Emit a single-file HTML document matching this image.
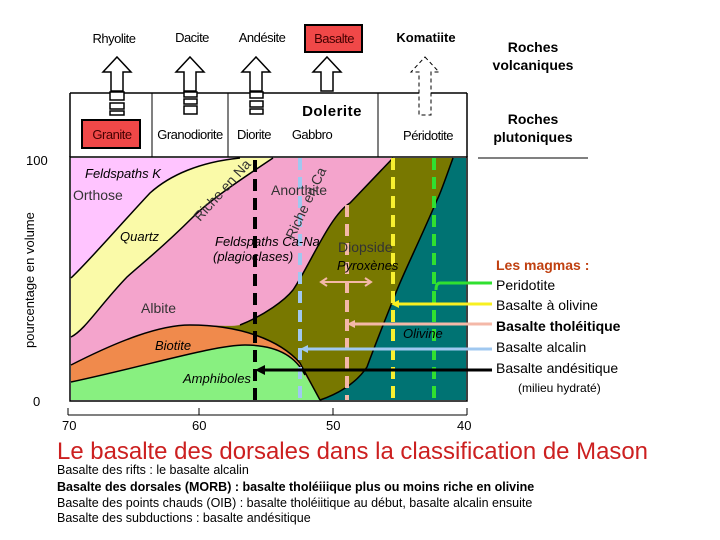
<!DOCTYPE html>
<html><head><meta charset="utf-8"><style>
body{margin:0;background:#fff;}
svg{display:block;font-family:"Liberation Sans",sans-serif;}
</style></head><body>
<svg width="720" height="540" viewBox="0 0 720 540" xmlns="http://www.w3.org/2000/svg">
<rect x="71" y="158" width="395" height="242" fill="#007373"/>
<path d="M453,158 C445,180 440,195 437,200 C420,240 405,270 397,290 C385,320 375,345 367,367 C355,385 335,395 320,400 L71,400 L71,158 Z" fill="#787800"/>
<path d="M393,158 L71,158 L71,365 C120,340 160,325 190,325 C215,325 230,327 240,325 C265,315 285,300 293,290 C310,265 330,215 350,203 Z" fill="#f4a4cc"/>
<path d="M71,365 C120,340 160,325 190,325 C240,325 280,340 300,363 L320,400 L71,400 Z" fill="#f08a4c"/>
<path d="M71,382 C150,365 215,345 245,345 C275,345 295,355 305,375 L320,400 L71,400 Z" fill="#88f080"/>
<path d="M71,158 L273,158 C240,180 210,200 193,217 C160,250 140,265 127,277 C100,305 85,330 71,337 Z" fill="#fafaa8"/>
<path d="M71,158 L240,158 C200,162 170,175 150,193 C120,225 90,260 71,278 Z" fill="#ffc4ff"/>
<g fill="none" stroke="#000" stroke-width="1.5">
<path d="M71,278 C90,260 120,225 150,193 C170,175 200,162 240,158"/>
<path d="M71,337 C85,330 100,305 127,277 C140,265 160,250 193,217 C210,200 240,180 273,158"/>
<path d="M393,158 L350,203 C330,215 310,265 293,290 C285,300 265,315 240,325"/>
<path d="M71,365 C120,340 160,325 190,325 C240,325 280,340 300,363 L320,400"/>
<path d="M71,382 C150,365 215,345 245,345 C275,345 295,355 305,375"/>
<path d="M453,158 C445,180 440,195 437,200 C420,240 405,270 397,290 C385,320 375,345 367,367 C355,385 335,395 320,400"/>
</g>
<rect x="70" y="157" width="397" height="244" fill="none" stroke="#000" stroke-width="1.5"/>
<g stroke-width="4" stroke-dasharray="12,7" fill="none">
<line x1="255" y1="160" x2="255" y2="400" stroke="#000"/>
<line x1="300" y1="158" x2="300" y2="400" stroke="#a0c8f0"/>
<line x1="347" y1="205" x2="347" y2="400" stroke="#f4b8a8"/>
<line x1="393" y1="158" x2="393" y2="400" stroke="#f8f030"/>
<line x1="434" y1="158" x2="434" y2="400" stroke="#30e030"/>
</g>
<g stroke-width="3" fill="none">
<path d="M492,283 L440,283 Q436,283 436,290" stroke="#30e030"/>
<line x1="492" y1="304" x2="398" y2="304" stroke="#f8f020"/>
<line x1="492" y1="324" x2="354" y2="324" stroke="#f4b8a8"/>
<line x1="492" y1="349" x2="305" y2="349" stroke="#a0c8f0"/>
<line x1="492" y1="370" x2="262" y2="370" stroke="#000"/>
</g>
<polygon points="255,370 265,365 265,375" fill="#000"/>
<polygon points="300,349 308,345 308,353" fill="#a0c8f0"/>
<polygon points="347,324 355,320 355,328" fill="#f4b8a8"/>
<polygon points="391,304 399,300 399,308" fill="#f8f020"/>
<g stroke="#f4b8a8" stroke-width="2" fill="none"><line x1="322" y1="282" x2="370" y2="282"/><path d="M327,278 L321,282 L327,286 M365,278 L371,282 L365,286"/></g>
<g font-size="13" font-style="italic" fill="#000">
<text x="85" y="178">Feldspaths K</text>
<text x="120" y="241">Quartz</text>
<text x="215" y="246">Feldspaths Ca-Na</text>
<text x="213" y="261">(plagioclases)</text>
<text x="337" y="270">Pyroxènes</text>
<text x="403" y="338">Olivine</text>
<text x="155" y="350">Biotite</text>
<text x="183" y="383">Amphiboles</text>
</g>
<g font-size="14" fill="#333">
<text x="73" y="200">Orthose</text>
<text x="141" y="313">Albite</text>
<text x="271" y="195">Anorthite</text>
<text x="338" y="252">Diopside</text>
<text font-size="14" transform="translate(200,222) rotate(-48)">Riche en Na</text>
<text font-size="14" transform="translate(294,240) rotate(-65)">Riche en Ca</text>
</g>
<g font-size="13" fill="#000">
<text x="26" y="165">100</text>
<text x="33" y="406">0</text>
<text transform="translate(34,348) rotate(-90)" font-size="13">pourcentage en volume</text>
<line x1="68" y1="415" x2="467" y2="415" stroke="#000"/>
<line x1="68" y1="408" x2="68" y2="415" stroke="#000"/>
<line x1="199" y1="408" x2="199" y2="415" stroke="#000"/>
<line x1="333" y1="408" x2="333" y2="415" stroke="#000"/>
<line x1="467" y1="408" x2="467" y2="415" stroke="#000"/>
<text x="62" y="430">70</text><text x="192" y="430">60</text><text x="326" y="430">50</text><text x="457" y="430">40</text>
</g>
<g fill="none" stroke="#000" stroke-width="1.5">
<line x1="70" y1="93" x2="467" y2="93"/>
<line x1="70" y1="93" x2="70" y2="157"/>
<line x1="467" y1="93" x2="467" y2="157"/>
<line x1="152" y1="93" x2="152" y2="157" stroke-width="1"/>
<line x1="228" y1="93" x2="228" y2="157" stroke-width="1"/>
<line x1="378" y1="93" x2="378" y2="157" stroke-width="1"/>
</g>
<rect x="82" y="120" width="58" height="28" fill="#f04848" stroke="#000" stroke-width="2"/>
<rect x="305" y="25" width="57" height="27" fill="#f04848" stroke="#000" stroke-width="2"/>
<g fill="#fff" stroke="#000" stroke-width="1.5">
<path d="M117,57 L131,72 L123,72 L123,91 L111,91 L111,72 L103,72 Z"/>
<path d="M190,57 L204,72 L196,72 L196,91 L184,91 L184,72 L176,72 Z"/>
<path d="M256,57 L270,72 L262,72 L262,91 L250,91 L250,72 L242,72 Z"/>
<path d="M327,57 L341,72 L333,72 L333,91 L321,91 L321,72 L313,72 Z"/>
<path d="M425,57 L439,72 L431,72 L431,115 L419,115 L419,72 L411,72 Z" stroke-dasharray="4,3" stroke-width="1"/>
<rect x="110" y="92" width="14" height="8"/><rect x="110" y="103" width="14" height="6"/><rect x="110" y="111" width="14" height="4"/>
<rect x="184" y="92" width="13" height="5"/><rect x="184" y="99" width="13" height="5"/><rect x="184" y="106" width="13" height="8"/>
<rect x="250" y="92" width="13" height="6"/><rect x="250" y="101" width="13" height="6"/><rect x="250" y="109" width="13" height="5"/>
</g>
<g font-size="13" fill="#000" text-anchor="middle" letter-spacing="-0.5">
<text x="114" y="43">Rhyolite</text>
<text x="192" y="42">Dacite</text>
<text x="262" y="42">Andésite</text>
<text x="334" y="43" fill="#400">Basalte</text>
<text x="426" y="42" font-weight="bold" letter-spacing="0">Komatiite</text>
<text x="112" y="139" fill="#400">Granite</text>
<text x="190" y="139">Granodiorite</text>
<text x="254" y="139">Diorite</text>
<text x="312" y="139">Gabbro</text>
<text x="428" y="140">Péridotite</text>
<text x="332" y="116" font-size="15" font-weight="bold" letter-spacing="0.5">Dolerite</text>
</g>
<g font-size="14" font-weight="bold" text-anchor="middle" fill="#000">
<text x="533" y="52">Roches</text><text x="533" y="70">volcaniques</text>
<text x="533" y="124">Roches</text><text x="533" y="142">plutoniques</text>
</g>
<line x1="478" y1="158" x2="588" y2="158" stroke="#000"/>
<g font-size="14" fill="#000">
<text x="496" y="270" font-weight="bold" fill="#c04010">Les magmas :</text>
<text x="496" y="290">Peridotite</text>
<text x="496" y="310">Basalte à olivine</text>
<text x="496" y="331" font-weight="bold">Basalte tholéitique</text>
<text x="496" y="352">Basalte alcalin</text>
<text x="496" y="373">Basalte andésitique</text>
<text x="518" y="392" font-size="12">(milieu hydraté)</text>
</g>
<text x="57" y="459" font-size="24" fill="#cc2020" textLength="591" lengthAdjust="spacingAndGlyphs">Le basalte des dorsales dans la classification de Mason</text>
<g font-size="12.5" fill="#000">
<text x="57" y="474">Basalte des rifts : le basalte alcalin</text>
<text x="57" y="491" font-weight="bold">Basalte des dorsales (MORB) : basalte tholéiiique plus ou moins riche en olivine</text>
<text x="57" y="507">Basalte des points chauds (OIB) : basalte tholéiitique au début, basalte alcalin ensuite</text>
<text x="57" y="522">Basalte des subductions : basalte andésitique</text>
</g>
</svg>
</body></html>
